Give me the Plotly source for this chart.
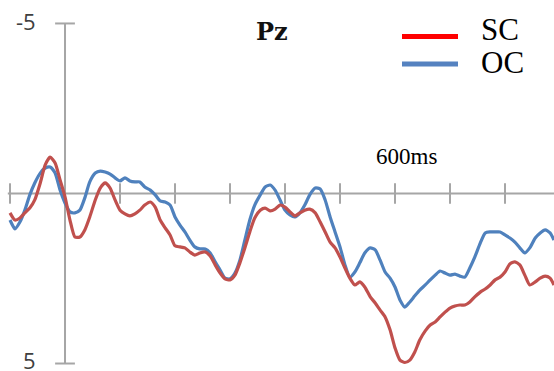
import plotly.graph_objects as go

# ---- data (time in ms, amplitude in microvolts; negative plotted up) ----
time_ms = [
    -100, -91, -82, -73, -64, -55, -45, -36, -27, -18, -9,
    0, 9, 18, 27, 36, 45, 55, 64, 73, 82, 91,
    100, 109, 118, 127, 136, 145, 155, 164, 173, 182, 191,
    200, 209, 218, 227, 236, 245, 255, 264, 273, 282, 291,
    300, 309, 318, 327, 336, 345, 355, 364, 373, 382, 391,
    400, 409, 418, 427, 436, 445, 455, 464, 473, 482, 491,
    500, 509, 518, 527, 536, 545, 555, 564, 573, 582, 591,
    600, 609, 618, 627, 636, 645, 655, 664, 673, 682, 691,
    700, 709, 718, 727, 736, 745, 755, 764, 773, 782, 791,
    800, 809, 818, 827, 836, 845, 855, 864, 873, 882, 889,
]

oc_uv = [
    0.78, 1.04, 0.84, 0.49, 0.04, -0.31, -0.60, -0.75, -0.78, -0.60, -0.10,
    0.28, 0.54, 0.57, 0.49, 0.13, -0.34, -0.60, -0.66, -0.63, -0.57, -0.46,
    -0.37, -0.46, -0.37, -0.34, -0.34, -0.19, -0.10, 0.04, 0.22, 0.25, 0.34,
    0.69, 0.93, 1.13, 1.37, 1.57, 1.63, 1.63, 1.75, 2.01, 2.25, 2.49,
    2.51, 2.34, 1.96, 1.37, 0.78, 0.34, 0.04, -0.19, -0.25, -0.10, 0.19,
    0.49, 0.63, 0.69, 0.57, 0.34, 0.04, -0.16, -0.13, 0.19, 0.69, 1.13,
    1.57, 2.10, 2.46, 2.31, 2.04, 1.75, 1.60, 1.66, 1.96, 2.31, 2.49,
    2.75, 3.13, 3.34, 3.19, 3.01, 2.84, 2.69, 2.54, 2.40, 2.28, 2.34,
    2.40, 2.37, 2.43, 2.46, 2.19, 1.87, 1.46, 1.16, 1.13, 1.13, 1.13,
    1.22, 1.31, 1.43, 1.60, 1.75, 1.60, 1.31, 1.16, 1.07, 1.16, 1.37,
]

sc_uv = [
    0.57, 0.78, 0.72, 0.57, 0.43, 0.19, -0.31, -0.84, -1.07, -0.90, -0.40,
    0.10, 0.78, 1.28, 1.28, 1.07, 0.69, 0.19, -0.16, -0.31, -0.16, 0.19,
    0.49, 0.60, 0.66, 0.60, 0.49, 0.34, 0.25, 0.40, 0.78, 1.01, 1.22,
    1.54, 1.57, 1.60, 1.72, 1.81, 1.75, 1.72, 1.84, 2.10, 2.34, 2.51,
    2.54, 2.40, 2.04, 1.60, 1.13, 0.72, 0.49, 0.43, 0.51, 0.46, 0.34,
    0.40, 0.54, 0.66, 0.57, 0.49, 0.46, 0.57, 0.84, 1.13, 1.43, 1.60,
    1.87, 2.19, 2.49, 2.69, 2.60, 2.75, 3.04, 3.22, 3.43, 3.63, 4.01,
    4.54, 4.90, 4.97, 4.90, 4.66, 4.31, 4.04, 3.87, 3.78, 3.63, 3.49,
    3.37, 3.31, 3.28, 3.28, 3.19, 3.04, 2.90, 2.81, 2.69, 2.54, 2.46,
    2.31, 2.07, 2.01, 2.10, 2.40, 2.69, 2.60, 2.49, 2.43, 2.49, 2.69,
]

x_tick_ms = [-100, 100, 200, 300, 400, 500, 600, 700, 800]
y_tick_uv = [-5, 5]
y_tick_labels = ["-5", "5"]
series_names = ["SC", "OC"]
title_text = "Pz"
marker_text = "600ms"
marker_ms = 600

assert len(time_ms) == len(oc_uv) == len(sc_uv)

# ---- styling ----
W, H = 554, 371
RED_LINE = "#C0504D"
BLUE_LINE = "#4F81BD"
AXIS_GRAY = "#A6A6A6"

x_range = [-118.2, 889.1]
y_range = [5.22, -5.69]  # reversed: negative up

fig = go.Figure()
fig.add_trace(go.Scatter(x=time_ms, y=oc_uv, mode="lines", name=series_names[1],
                         line=dict(color=BLUE_LINE, width=3.2, shape="spline", smoothing=0.6),
                         showlegend=False, hoverinfo="skip"))
fig.add_trace(go.Scatter(x=time_ms, y=sc_uv, mode="lines", name=series_names[0],
                         line=dict(color=RED_LINE, width=3.2, shape="spline", smoothing=0.6),
                         showlegend=False, hoverinfo="skip"))

shapes = []
# horizontal zero line
shapes.append(dict(type="line", xref="x", yref="y", x0=-104, x1=x_range[1] + 5, y0=0, y1=0,
                   line=dict(color=AXIS_GRAY, width=2), layer="below"))
# vertical axis
shapes.append(dict(type="line", xref="x", yref="y", x0=0, x1=0, y0=y_tick_uv[0], y1=y_tick_uv[1],
                   line=dict(color=AXIS_GRAY, width=2), layer="below"))
# x ticks (crossing the zero line)
for t in x_tick_ms:
    shapes.append(dict(type="line", xref="x", yref="y", x0=t, x1=t, y0=-0.3, y1=0.3,
                       line=dict(color=AXIS_GRAY, width=2), layer="below"))
# y ticks
for v in y_tick_uv:
    shapes.append(dict(type="line", xref="x", yref="y", x0=-18, x1=18, y0=v, y1=v,
                       line=dict(color=AXIS_GRAY, width=2), layer="below"))

# legend samples (paper coords)
def px(xp):
    return xp / W

def py(yp):
    return 1 - yp / H

shapes.append(dict(type="line", xref="paper", yref="paper", x0=px(402), x1=px(458),
                   y0=py(36.5), y1=py(36.5), line=dict(color="#FF0000", width=5)))
shapes.append(dict(type="line", xref="paper", yref="paper", x0=px(402), x1=px(458),
                   y0=py(64), y1=py(64), line=dict(color="#5582C0", width=5)))

annotations = []
label_y_px = [21, 360]
for lab, ypx in zip(y_tick_labels, label_y_px):
    annotations.append(dict(x=px(38), y=py(ypx), xref="paper", yref="paper", text=lab, showarrow=False,
                            xanchor="right", yanchor="middle",
                            font=dict(family="Open Sans", size=22, color="#404040")))
annotations.append(dict(x=px(272), y=py(32), xref="paper", yref="paper", text="<b>" + title_text + "</b>",
                        showarrow=False, xanchor="center", yanchor="middle",
                        font=dict(family="DejaVu Serif", size=24, color="#111111")))
annotations.append(dict(x=px(479), y=py(30), xref="paper", yref="paper", text=series_names[0],
                        showarrow=False, xanchor="left", yanchor="middle",
                        font=dict(family="Liberation Serif", size=31, color="#000000")))
annotations.append(dict(x=px(479), y=py(62), xref="paper", yref="paper", text=series_names[1],
                        showarrow=False, xanchor="left", yanchor="middle",
                        font=dict(family="Liberation Serif", size=31, color="#000000")))
annotations.append(dict(x=marker_ms + 20, y=py(156), xref="x", yref="paper", text=marker_text,
                        showarrow=False, xanchor="center", yanchor="middle",
                        font=dict(family="Liberation Serif", size=23, color="#000000")))

fig.update_layout(
    width=W, height=H,
    margin=dict(l=0, r=0, t=0, b=0, pad=0),
    paper_bgcolor="white", plot_bgcolor="white",
    xaxis=dict(range=x_range, visible=False, fixedrange=True),
    yaxis=dict(range=y_range, visible=False, fixedrange=True),
    shapes=shapes, annotations=annotations,
    showlegend=False,
)

fig.write_html("out.html", config={"displayModeBar": False, "staticPlot": True},
               post_script="document.body.style.margin='0px';document.body.style.padding='0px';")
